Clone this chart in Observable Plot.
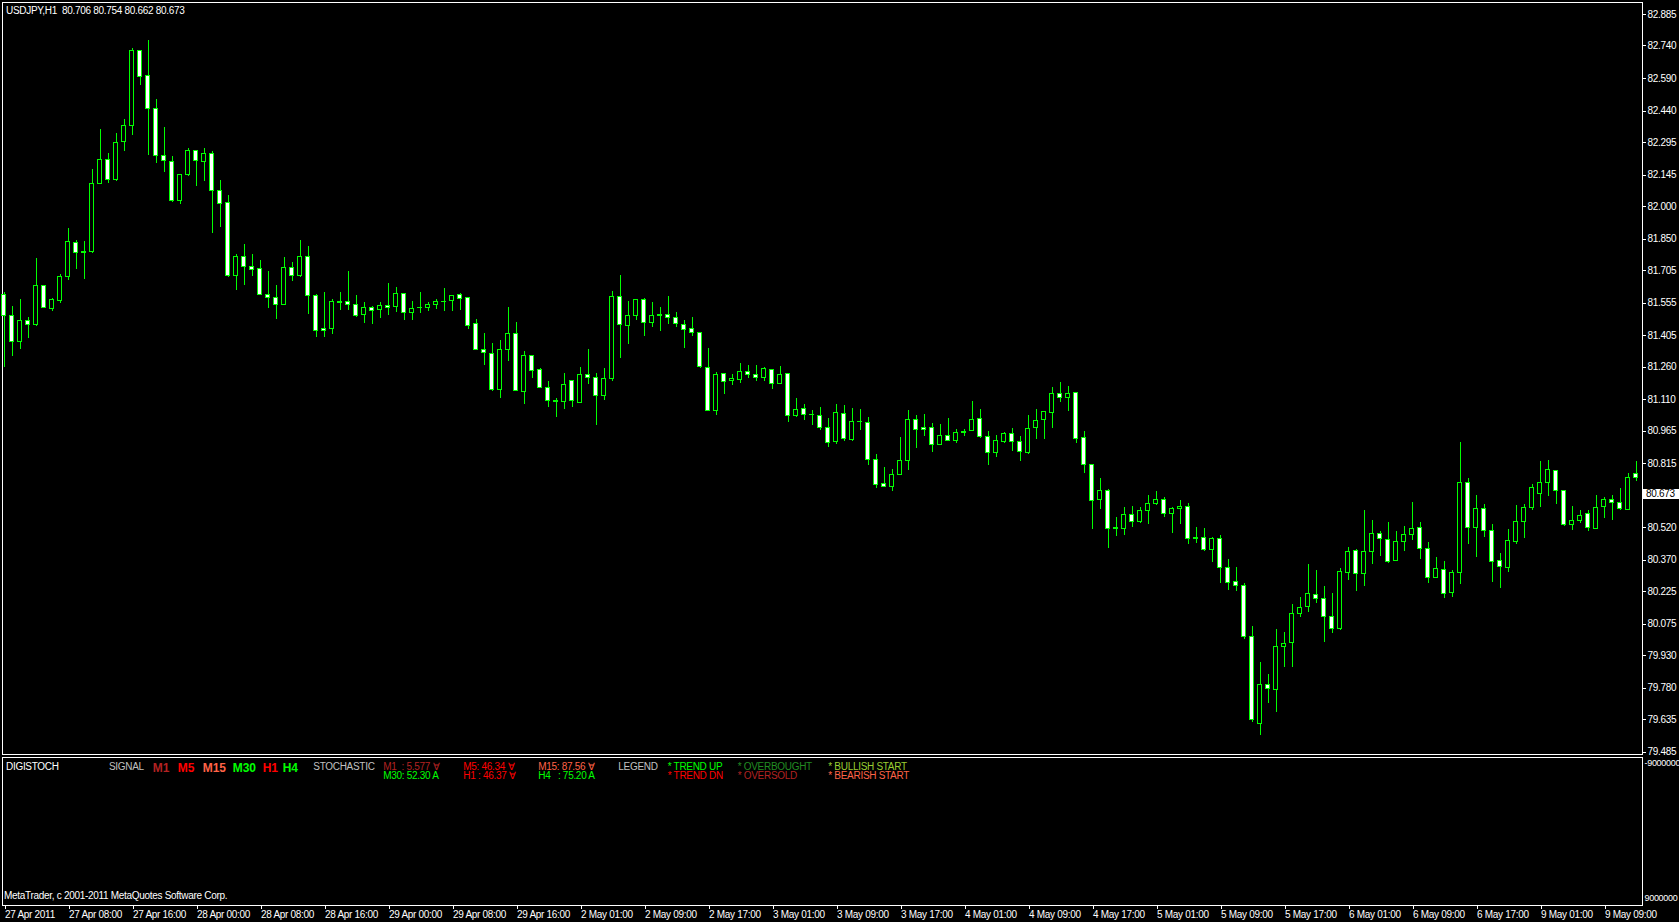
<!DOCTYPE html>
<html><head><meta charset="utf-8">
<script src="https://cdn.jsdelivr.net/npm/d3@7"></script>
<script src="https://cdn.jsdelivr.net/npm/@observablehq/plot@0.6"></script>
<style>
html,body{margin:0;padding:0;background:#000;}
body{width:1679px;height:922px;overflow:hidden;font-family:"Liberation Sans",Arial,sans-serif;}
.panel{position:relative;width:1679px;overflow:hidden;}
.panel svg{display:block;shape-rendering:crispEdges;}
.ov{position:absolute;white-space:pre;font-size:10px;line-height:12px;letter-spacing:-0.3px;color:#fff;}
.ov.b{font-weight:bold;font-size:12px;line-height:14px;letter-spacing:0;}
</style></head><body>
<div id="p1" class="panel"></div>
<div id="p2" class="panel"></div>
<script>
const symbolTitle = "USDJPY,H1  80.706 80.754 80.662 80.673";
const currentPrice = 80.673;
const opens = [
81.593,81.496,81.375,81.473,81.453,81.635,81.527,81.564,81.674,81.833,
81.789,81.789,82.105,82.215,82.120,82.296,82.370,82.718,82.602,82.450,
82.234,82.206,82.024,82.144,82.257,82.204,82.243,82.072,82.014,81.679,
81.768,81.722,81.713,81.593,81.579,81.545,81.718,81.682,81.768,81.589,
81.436,81.435,81.558,81.561,81.547,81.499,81.533,81.522,81.542,81.536,
81.598,81.508,81.533,81.531,81.545,81.561,81.564,81.594,81.579,81.459,
81.340,81.321,81.153,81.338,81.413,81.144,81.312,81.247,81.164,81.103,
81.098,81.197,81.094,81.224,81.211,81.126,81.204,81.584,81.448,81.494,
81.570,81.462,81.499,81.501,81.487,81.455,81.436,81.418,81.257,81.057,
81.229,81.195,81.200,81.238,81.224,81.209,81.247,81.181,81.229,81.034,
81.068,81.040,81.035,80.980,80.914,81.045,80.923,81.008,81.003,80.833,
80.722,80.707,80.762,80.826,81.017,80.980,80.980,80.900,80.943,80.918,
80.961,80.964,81.022,80.939,80.863,80.914,80.952,80.916,80.863,80.980,
81.015,81.047,81.137,81.118,81.141,80.934,80.810,80.646,80.690,80.517,
80.515,80.579,80.545,80.596,80.630,80.648,80.584,80.607,80.616,80.471,
80.471,80.418,80.467,80.335,80.270,80.252,80.017,79.617,79.796,79.771,
79.969,79.987,80.121,80.153,80.210,80.192,80.109,80.055,80.310,80.413,
80.305,80.407,80.492,80.464,80.365,80.453,80.485,80.519,80.422,80.287,
80.326,80.218,80.310,80.727,80.517,80.607,80.505,80.367,80.333,80.453,
80.545,80.610,80.674,80.725,80.782,80.690,80.531,80.551,80.584,80.515,
80.616,80.648,80.634,80.602,80.768];
const highs = [
81.604,81.539,81.571,81.489,81.760,81.635,81.576,81.685,81.899,81.843,
81.839,82.171,82.355,82.244,82.337,82.401,82.728,82.718,82.765,82.493,
82.364,82.231,82.146,82.267,82.257,82.267,82.254,82.120,82.051,81.779,
81.825,81.779,81.751,81.700,81.636,81.765,81.741,81.843,81.816,81.594,
81.604,81.571,81.604,81.700,81.590,81.558,81.539,81.558,81.645,81.627,
81.598,81.562,81.604,81.558,81.571,81.622,81.589,81.599,81.579,81.478,
81.415,81.369,81.382,81.535,81.465,81.332,81.312,81.255,81.194,81.115,
81.230,81.197,81.258,81.341,81.229,81.253,81.607,81.682,81.562,81.570,
81.576,81.558,81.535,81.585,81.512,81.475,81.489,81.418,81.346,81.234,
81.229,81.226,81.276,81.267,81.267,81.257,81.247,81.263,81.229,81.115,
81.088,81.060,81.074,81.023,81.088,81.083,81.069,81.065,81.028,80.856,
80.797,80.788,80.935,81.060,81.037,81.041,81.000,80.995,81.023,80.972,
80.972,81.101,81.064,80.963,80.943,80.958,80.977,80.940,81.037,81.064,
81.054,81.166,81.189,81.170,81.141,80.963,80.810,80.746,80.694,80.565,
80.611,80.617,80.611,80.668,80.687,80.659,80.614,80.644,80.630,80.519,
80.515,80.476,80.482,80.372,80.335,80.261,80.064,79.898,79.843,80.050,
80.035,80.164,80.197,80.350,80.322,80.247,80.216,80.330,80.427,80.418,
80.599,80.553,80.501,80.544,80.502,80.525,80.636,80.544,80.451,80.382,
80.364,80.321,80.912,80.745,80.668,80.627,80.534,80.401,80.511,80.622,
80.627,80.717,80.825,80.829,80.782,80.690,80.617,80.599,80.599,80.668,
80.659,80.668,80.700,80.769,80.825];
const lows = [
81.259,81.309,81.341,81.393,81.448,81.533,81.518,81.554,81.660,81.710,
81.664,81.782,82.105,82.107,82.115,82.255,82.327,82.558,82.235,82.198,
82.157,82.020,82.009,82.140,82.094,82.117,81.877,81.905,81.674,81.613,
81.636,81.677,81.591,81.530,81.479,81.545,81.656,81.673,81.502,81.398,
81.398,81.410,81.521,81.521,81.490,81.461,81.456,81.484,81.498,81.512,
81.475,81.475,81.507,81.516,81.525,81.516,81.516,81.521,81.435,81.338,
81.267,81.149,81.117,81.287,81.149,81.089,81.209,81.163,81.075,81.029,
81.066,81.075,81.094,81.181,80.992,81.107,81.195,81.301,81.365,81.475,
81.402,81.442,81.425,81.458,81.444,81.347,81.402,81.255,81.057,81.037,
81.135,81.175,81.184,81.209,81.195,81.195,81.158,81.181,81.006,81.029,
81.015,80.992,80.969,80.891,80.905,80.918,80.918,80.969,80.808,80.702,
80.707,80.688,80.762,80.785,80.886,80.941,80.868,80.900,80.916,80.909,
80.940,80.964,80.932,80.808,80.845,80.909,80.872,80.826,80.858,80.928,
80.928,80.978,81.098,81.057,80.909,80.771,80.513,80.605,80.425,80.481,
80.485,80.522,80.540,80.536,80.623,80.565,80.492,80.536,80.441,80.448,
80.411,80.361,80.264,80.232,80.227,80.006,79.622,79.562,79.709,79.668,
79.875,79.875,80.107,80.129,80.172,79.992,80.033,80.047,80.276,80.227,
80.249,80.350,80.387,80.356,80.365,80.411,80.462,80.375,80.264,80.287,
80.195,80.199,80.259,80.444,80.384,80.476,80.267,80.241,80.315,80.444,
80.471,80.600,80.614,80.665,80.628,80.527,80.508,80.540,80.504,80.510,
80.563,80.554,80.600,80.602,80.734];
const closes = [
81.494,81.375,81.473,81.455,81.635,81.533,81.570,81.676,81.837,81.785,
81.785,82.105,82.215,82.123,82.294,82.372,82.718,82.598,82.450,82.232,
82.211,82.024,82.146,82.257,82.209,82.243,82.071,82.011,81.679,81.768,
81.720,81.706,81.591,81.577,81.545,81.718,81.679,81.768,81.587,81.425,
81.425,81.561,81.554,81.545,81.494,81.533,81.519,81.542,81.531,81.598,
81.508,81.529,81.530,81.547,81.561,81.558,81.589,81.573,81.448,81.338,
81.324,81.153,81.340,81.413,81.149,81.312,81.241,81.163,81.103,81.100,
81.178,81.103,81.224,81.209,81.126,81.206,81.584,81.453,81.496,81.570,
81.462,81.496,81.496,81.485,81.458,81.430,81.416,81.259,81.057,81.224,
81.190,81.206,81.238,81.223,81.209,81.252,81.181,81.224,81.034,81.063,
81.038,81.037,80.978,80.909,81.049,80.928,81.008,81.005,80.831,80.716,
80.707,80.764,80.829,81.017,80.969,80.969,80.901,80.943,80.918,80.957,
80.958,81.017,80.937,80.865,80.920,80.952,80.914,80.868,80.975,81.012,
81.054,81.137,81.118,81.137,80.929,80.810,80.644,80.690,80.515,80.515,
80.579,80.545,80.598,80.630,80.648,80.584,80.607,80.616,80.469,80.469,
80.418,80.467,80.335,80.266,80.252,80.015,79.633,79.796,79.777,79.971,
79.983,80.123,80.151,80.215,80.190,80.107,80.052,80.316,80.409,80.305,
80.409,80.492,80.467,80.361,80.455,80.487,80.515,80.421,80.287,80.330,
80.213,80.312,80.727,80.517,80.607,80.505,80.361,80.338,80.459,80.547,
80.611,80.704,80.727,80.787,80.688,80.531,80.551,80.575,80.519,80.611,
80.648,80.634,80.605,80.750,80.750];
const priceTicks = [82.885,82.740,82.590,82.440,82.295,82.145,82.000,81.850,81.705,81.555,81.405,81.260,81.110,80.965,80.815,80.520,80.370,80.225,80.075,79.930,79.780,79.635,79.485];
const timeTickBars = [0,8,16,24,32,40,48,56,64,72,80,88,96,104,112,120,128,136,144,152,160,168,176,184,192,200];
const timeLabels = ["27 Apr 2011","27 Apr 08:00","27 Apr 16:00","28 Apr 00:00","28 Apr 08:00","28 Apr 16:00","29 Apr 00:00","29 Apr 08:00","29 Apr 16:00","2 May 01:00","2 May 09:00","2 May 17:00","3 May 01:00","3 May 09:00","3 May 17:00","4 May 01:00","4 May 09:00","4 May 17:00","5 May 01:00","5 May 09:00","5 May 17:00","6 May 01:00","6 May 09:00","6 May 17:00","9 May 01:00","9 May 09:00"];
const indicatorTicks = [-9000000, 9000000];
const signalLabels = ["M1","M5","M15","M30","H1","H4"];
const stochLabels = ["M1  : 5.577 ∀","M5: 46.34 ∀","M15: 87.56 ∀","M30: 52.30 A","H1 : 46.37 ∀","H4   : 75.20 A"];
const legendLabels = ["* TREND UP","* OVERBOUGHT","* BULLISH START","* TREND DN","* OVERSOLD","* BEARISH START"];

const FONT = '"Liberation Sans",Arial,sans-serif';
const GREEN = "#00ff00";
const bars = opens.map((o, i) => ({i, o, h: highs[i], l: lows[i], c: closes[i]}));
const bears = bars.filter(d => d.c < d.o);
const bulls = bars.filter(d => d.c >= d.o);
const fmt3 = d3.format(".3f");
const plotStyle = {background: "#000", color: "#fff", fontFamily: FONT, fontSize: "10px", letterSpacing: "-0.3px"};

const priceBox = (index, scales, values, dims) => {
  const yy = scales.y(currentPrice);
  const x0 = dims.width - dims.marginRight;
  const g = d3.create("svg:g");
  g.append("line").attr("x1", x0).attr("x2", x0 + 3).attr("y1", yy).attr("y2", yy).attr("stroke", "#fff");
  g.append("rect").attr("x", x0 + 1).attr("y", yy - 5).attr("width", 36).attr("height", 10).attr("fill", "#fff");
  g.append("text").attr("x", x0 + 4).attr("y", yy).attr("dy", "0.35em").attr("fill", "#000")
    .attr("text-anchor", "start").attr("font-family", FONT).attr("font-size", 10).text(fmt3(currentPrice));
  return g.node();
};

const chart1 = Plot.plot({
  width: 1679, height: 756,
  marginTop: 2, marginLeft: 2, marginRight: 37, marginBottom: 2,
  style: plotStyle,
  x: {type: "linear", domain: [0, 204], range: [3.5, 1635.5], axis: null},
  y: {domain: [79.485, 82.885], range: [751.7, 14]},
  marks: [
    Plot.frame({stroke: "#fff"}),
    Plot.ruleX(bars, {x: "i", y1: "l", y2: "h", stroke: GREEN, strokeWidth: 1}),
    Plot.rect(bears, {x1: d => d.i - 0.25, x2: d => d.i + 0.25, y1: "o", y2: "c", fill: "#fff", stroke: GREEN, strokeWidth: 1}),
    Plot.rect(bulls, {x1: d => d.i - 0.25, x2: d => d.i + 0.25, y1: "o", y2: "c", fill: "#000", stroke: GREEN, strokeWidth: 1}),
    Plot.axisY(priceTicks, {anchor: "right", tickSize: 3, tickPadding: 2, tickFormat: fmt3, fill: "#fff", stroke: "#fff", label: null}),
    priceBox
  ]
});
const p1 = document.getElementById("p1");
p1.style.height = "756px";
p1.appendChild(chart1);
const title = document.createElement("div");
title.className = "ov";
title.style.left = "6px"; title.style.top = "4.7px";
title.textContent = symbolTitle;
p1.appendChild(title);

const chart2 = Plot.plot({
  width: 1679, height: 166,
  marginTop: 1, marginLeft: 2, marginRight: 37, marginBottom: 17,
  style: plotStyle,
  x: {type: "linear", domain: [0, 204], range: [3.5, 1635.5]},
  y: {domain: [-9000000, 9000000], range: [6.7, 142]},
  marks: [
    Plot.frame({stroke: "#fff"}),
    Plot.axisX(timeTickBars, {anchor: "bottom", tickSize: 4, tickPadding: 1, textAnchor: "start", dx: 1,
      tickFormat: d => timeLabels[timeTickBars.indexOf(d)], fill: "#fff", stroke: "#fff", label: null}),
    Plot.axisY(indicatorTicks, {anchor: "right", tickSize: 0, tickPadding: 2, fontSize: 9,
      tickFormat: d => String(d), fill: "#fff", label: null})
  ]
});
const p2 = document.getElementById("p2");
p2.style.height = "166px";
p2.appendChild(chart2);

const ROW1 = 4.5, ROW2 = 13.7;
const overlay = [
  {t: "DIGISTOCH", x: 6, y: ROW1, c: "#ffffff"},
  {t: "SIGNAL", x: 109, y: ROW1, c: "#c0c0c0"},
  {t: signalLabels[0], x: 152.7, y: 4.5, c: "#b22222", b: true},
  {t: signalLabels[1], x: 177.7, y: 4.5, c: "#ff0000", b: true},
  {t: signalLabels[2], x: 202.7, y: 4.5, c: "#ff6347", b: true},
  {t: signalLabels[3], x: 232.7, y: 4.5, c: "#00ff00", b: true},
  {t: signalLabels[4], x: 262.7, y: 4.5, c: "#ff0000", b: true},
  {t: signalLabels[5], x: 282.7, y: 4.5, c: "#00ff00", b: true},
  {t: "STOCHASTIC", x: 313.3, y: ROW1, c: "#c0c0c0"},
  {t: stochLabels[0], x: 383.3, y: ROW1, c: "#b22222"},
  {t: stochLabels[1], x: 463.3, y: ROW1, c: "#ff0000"},
  {t: stochLabels[2], x: 538.3, y: ROW1, c: "#ff6347"},
  {t: stochLabels[3], x: 383.3, y: ROW2, c: "#00ff00"},
  {t: stochLabels[4], x: 463.3, y: ROW2, c: "#ff0000"},
  {t: stochLabels[5], x: 538.3, y: ROW2, c: "#00ff00"},
  {t: "LEGEND", x: 618.3, y: ROW1, c: "#c0c0c0"},
  {t: legendLabels[0], x: 667.7, y: ROW1, c: "#00ff00"},
  {t: legendLabels[1], x: 737.7, y: ROW1, c: "#228b22"},
  {t: legendLabels[2], x: 828.3, y: ROW1, c: "#9acd32"},
  {t: legendLabels[3], x: 667.7, y: ROW2, c: "#ff0000"},
  {t: legendLabels[4], x: 737.7, y: ROW2, c: "#b22222"},
  {t: legendLabels[5], x: 828.3, y: ROW2, c: "#ff6347"},
  {t: "MetaTrader, c 2001-2011 MetaQuotes Software Corp.", x: 4, y: 134, c: "#ffffff"}
];
for (const o of overlay) {
  const s = document.createElement("div");
  s.className = "ov" + (o.b ? " b" : "");
  s.style.left = o.x + "px"; s.style.top = o.y + "px"; s.style.color = o.c;
  s.textContent = o.t;
  p2.appendChild(s);
}
</script>
</body></html>
